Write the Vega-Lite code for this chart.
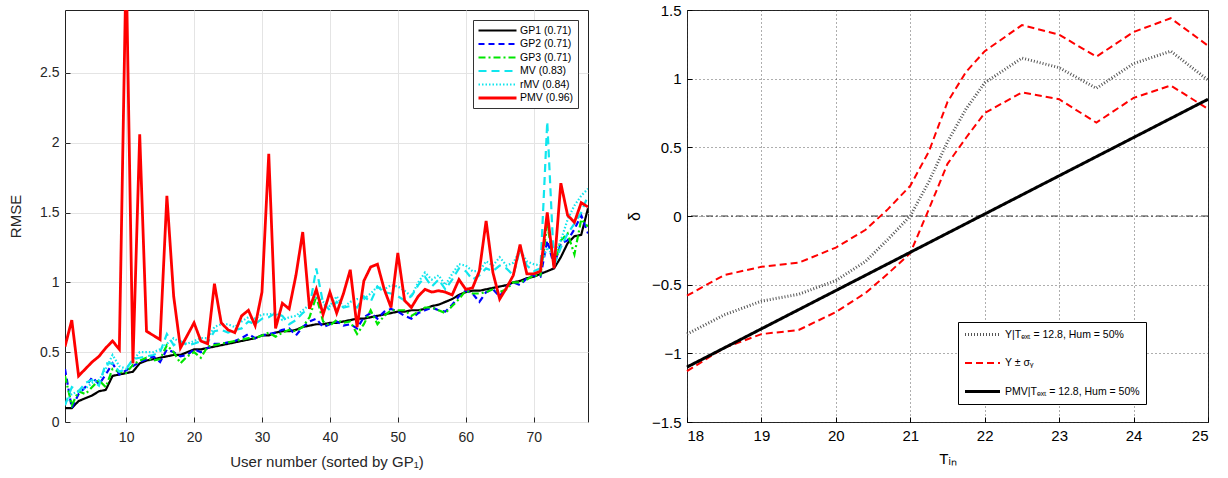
{
  "$schema": "https://vega.github.io/schema/vega-lite/v6.json",
  "padding": {"left": 8, "top": 2, "right": 5, "bottom": 5},
  "background": "white",
  "bounds": "flush",
  "spacing": 99,
  "config": {
    "font": "Liberation Sans",
    "view": {"stroke": "#222", "strokeWidth": 1},
    "axis": {"titleFontWeight": "normal", "labelFont": "Liberation Sans", "titleFont": "Liberation Sans"},
    "legend": {"labelFont": "Liberation Sans"}
  },
  "resolve": {"scale": {"color": "independent", "strokeDash": "independent", "strokeWidth": "independent", "x": "independent", "y": "independent"}},
  "hconcat": [
    {
      "width": 523,
      "height": 412,
      "data": {"values": [
        {"u":1,"GP1":0.10,"GP2":0.38,"GP3":0.33,"MV":0.12,"rMV":0.13,"PMV":0.54},
        {"u":2,"GP1":0.10,"GP2":0.10,"GP3":0.12,"MV":0.25,"rMV":0.20,"PMV":0.73},
        {"u":3,"GP1":0.15,"GP2":0.20,"GP3":0.22,"MV":0.22,"rMV":0.22,"PMV":0.33},
        {"u":4,"GP1":0.17,"GP2":0.25,"GP3":0.20,"MV":0.28,"rMV":0.24,"PMV":0.38},
        {"u":5,"GP1":0.19,"GP2":0.32,"GP3":0.25,"MV":0.30,"rMV":0.28,"PMV":0.43},
        {"u":6,"GP1":0.22,"GP2":0.27,"GP3":0.30,"MV":0.26,"rMV":0.30,"PMV":0.47},
        {"u":7,"GP1":0.23,"GP2":0.34,"GP3":0.25,"MV":0.42,"rMV":0.38,"PMV":0.53},
        {"u":8,"GP1":0.33,"GP2":0.42,"GP3":0.38,"MV":0.42,"rMV":0.48,"PMV":0.58},
        {"u":9,"GP1":0.34,"GP2":0.34,"GP3":0.36,"MV":0.36,"rMV":0.40,"PMV":0.52},
        {"u":10,"GP1":0.35,"GP2":0.37,"GP3":0.35,"MV":0.38,"rMV":0.38,"PMV":3.3},
        {"u":11,"GP1":0.36,"GP2":0.40,"GP3":0.41,"MV":0.45,"rMV":0.44,"PMV":0.42},
        {"u":12,"GP1":0.42,"GP2":0.43,"GP3":0.44,"MV":0.46,"rMV":0.50,"PMV":2.06},
        {"u":13,"GP1":0.44,"GP2":0.45,"GP3":0.46,"MV":0.47,"rMV":0.50,"PMV":0.65},
        {"u":14,"GP1":0.45,"GP2":0.47,"GP3":0.44,"MV":0.48,"rMV":0.50,"PMV":0.62},
        {"u":15,"GP1":0.46,"GP2":0.43,"GP3":0.45,"MV":0.50,"rMV":0.52,"PMV":0.59},
        {"u":16,"GP1":0.47,"GP2":0.52,"GP3":0.55,"MV":0.63,"rMV":0.56,"PMV":1.62},
        {"u":17,"GP1":0.48,"GP2":0.50,"GP3":0.50,"MV":0.55,"rMV":0.60,"PMV":0.90},
        {"u":18,"GP1":0.48,"GP2":0.47,"GP3":0.42,"MV":0.58,"rMV":0.57,"PMV":0.53},
        {"u":19,"GP1":0.50,"GP2":0.48,"GP3":0.47,"MV":0.55,"rMV":0.56,"PMV":0.62},
        {"u":20,"GP1":0.52,"GP2":0.52,"GP3":0.50,"MV":0.56,"rMV":0.58,"PMV":0.71},
        {"u":21,"GP1":0.52,"GP2":0.50,"GP3":0.46,"MV":0.58,"rMV":0.60,"PMV":0.58},
        {"u":22,"GP1":0.53,"GP2":0.53,"GP3":0.54,"MV":0.57,"rMV":0.60,"PMV":0.56},
        {"u":23,"GP1":0.54,"GP2":0.56,"GP3":0.55,"MV":0.65,"rMV":0.68,"PMV":0.99},
        {"u":24,"GP1":0.55,"GP2":0.56,"GP3":0.56,"MV":0.66,"rMV":0.70,"PMV":0.71},
        {"u":25,"GP1":0.56,"GP2":0.57,"GP3":0.57,"MV":0.64,"rMV":0.70,"PMV":0.66},
        {"u":26,"GP1":0.57,"GP2":0.58,"GP3":0.58,"MV":0.66,"rMV":0.68,"PMV":0.64},
        {"u":27,"GP1":0.58,"GP2":0.60,"GP3":0.59,"MV":0.67,"rMV":0.72,"PMV":0.76},
        {"u":28,"GP1":0.59,"GP2":0.63,"GP3":0.60,"MV":0.72,"rMV":0.75,"PMV":0.80},
        {"u":29,"GP1":0.60,"GP2":0.60,"GP3":0.60,"MV":0.70,"rMV":0.74,"PMV":0.69},
        {"u":30,"GP1":0.62,"GP2":0.62,"GP3":0.62,"MV":0.74,"rMV":0.77,"PMV":0.93},
        {"u":31,"GP1":0.62,"GP2":0.63,"GP3":0.64,"MV":0.75,"rMV":0.77,"PMV":1.92},
        {"u":32,"GP1":0.64,"GP2":0.64,"GP3":0.61,"MV":0.78,"rMV":0.78,"PMV":0.67},
        {"u":33,"GP1":0.65,"GP2":0.66,"GP3":0.64,"MV":0.76,"rMV":0.73,"PMV":0.85},
        {"u":34,"GP1":0.65,"GP2":0.67,"GP3":0.66,"MV":0.70,"rMV":0.75,"PMV":0.81},
        {"u":35,"GP1":0.66,"GP2":0.62,"GP3":0.65,"MV":0.73,"rMV":0.76,"PMV":1.05},
        {"u":36,"GP1":0.68,"GP2":0.68,"GP3":0.68,"MV":0.78,"rMV":0.80,"PMV":1.36},
        {"u":37,"GP1":0.69,"GP2":0.72,"GP3":0.75,"MV":0.82,"rMV":0.84,"PMV":0.81},
        {"u":38,"GP1":0.70,"GP2":0.74,"GP3":0.90,"MV":1.10,"rMV":0.90,"PMV":0.95},
        {"u":39,"GP1":0.70,"GP2":0.68,"GP3":0.72,"MV":0.85,"rMV":0.86,"PMV":0.77},
        {"u":40,"GP1":0.71,"GP2":0.70,"GP3":0.69,"MV":0.80,"rMV":0.83,"PMV":0.93},
        {"u":41,"GP1":0.71,"GP2":0.72,"GP3":0.73,"MV":0.86,"rMV":0.90,"PMV":0.78},
        {"u":42,"GP1":0.72,"GP2":0.69,"GP3":0.71,"MV":0.82,"rMV":0.82,"PMV":0.92},
        {"u":43,"GP1":0.73,"GP2":0.70,"GP3":0.72,"MV":0.83,"rMV":0.86,"PMV":1.09},
        {"u":44,"GP1":0.74,"GP2":0.67,"GP3":0.63,"MV":0.82,"rMV":0.88,"PMV":0.68},
        {"u":45,"GP1":0.74,"GP2":0.75,"GP3":0.70,"MV":0.90,"rMV":0.88,"PMV":1.01},
        {"u":46,"GP1":0.75,"GP2":0.78,"GP3":0.80,"MV":0.86,"rMV":0.92,"PMV":1.11},
        {"u":47,"GP1":0.76,"GP2":0.74,"GP3":0.70,"MV":0.97,"rMV":0.97,"PMV":1.13},
        {"u":48,"GP1":0.77,"GP2":0.79,"GP3":0.76,"MV":0.93,"rMV":0.95,"PMV":0.95},
        {"u":49,"GP1":0.78,"GP2":0.81,"GP3":0.80,"MV":0.92,"rMV":0.98,"PMV":0.82},
        {"u":50,"GP1":0.79,"GP2":0.79,"GP3":0.80,"MV":0.90,"rMV":0.97,"PMV":1.21},
        {"u":51,"GP1":0.79,"GP2":0.76,"GP3":0.80,"MV":0.87,"rMV":0.94,"PMV":0.87},
        {"u":52,"GP1":0.80,"GP2":0.74,"GP3":0.76,"MV":0.90,"rMV":0.90,"PMV":0.82},
        {"u":53,"GP1":0.80,"GP2":0.78,"GP3":0.79,"MV":0.98,"rMV":1.00,"PMV":0.90},
        {"u":54,"GP1":0.81,"GP2":0.80,"GP3":0.82,"MV":1.04,"rMV":1.07,"PMV":0.95},
        {"u":55,"GP1":0.83,"GP2":0.82,"GP3":0.82,"MV":0.97,"rMV":1.02,"PMV":0.93},
        {"u":56,"GP1":0.84,"GP2":0.80,"GP3":0.80,"MV":1.02,"rMV":1.05,"PMV":0.94},
        {"u":57,"GP1":0.86,"GP2":0.79,"GP3":0.78,"MV":0.95,"rMV":0.98,"PMV":0.93},
        {"u":58,"GP1":0.88,"GP2":0.84,"GP3":0.83,"MV":1.02,"rMV":1.06,"PMV":0.91},
        {"u":59,"GP1":0.91,"GP2":0.90,"GP3":0.88,"MV":1.10,"rMV":1.13,"PMV":1.02},
        {"u":60,"GP1":0.93,"GP2":0.94,"GP3":0.94,"MV":1.08,"rMV":1.12,"PMV":0.95},
        {"u":61,"GP1":0.94,"GP2":0.92,"GP3":0.92,"MV":1.02,"rMV":1.08,"PMV":0.96},
        {"u":62,"GP1":0.94,"GP2":0.86,"GP3":0.92,"MV":1.05,"rMV":1.08,"PMV":1.08},
        {"u":63,"GP1":0.95,"GP2":0.93,"GP3":0.93,"MV":1.10,"rMV":1.15,"PMV":1.44},
        {"u":64,"GP1":0.96,"GP2":0.95,"GP3":0.95,"MV":1.08,"rMV":1.12,"PMV":1.07},
        {"u":65,"GP1":0.97,"GP2":0.90,"GP3":0.93,"MV":1.12,"rMV":1.18,"PMV":0.88},
        {"u":66,"GP1":0.98,"GP2":0.97,"GP3":0.95,"MV":1.10,"rMV":1.12,"PMV":0.96},
        {"u":67,"GP1":1.00,"GP2":1.00,"GP3":1.00,"MV":1.05,"rMV":1.14,"PMV":1.05},
        {"u":68,"GP1":1.01,"GP2":0.98,"GP3":1.00,"MV":1.24,"rMV":1.23,"PMV":1.27},
        {"u":69,"GP1":1.03,"GP2":1.03,"GP3":1.02,"MV":1.12,"rMV":1.15,"PMV":1.06},
        {"u":70,"GP1":1.04,"GP2":1.05,"GP3":1.05,"MV":1.08,"rMV":1.13,"PMV":1.06},
        {"u":71,"GP1":1.06,"GP2":1.04,"GP3":1.05,"MV":1.10,"rMV":1.12,"PMV":1.08},
        {"u":72,"GP1":1.08,"GP2":1.30,"GP3":1.42,"MV":2.15,"rMV":1.25,"PMV":1.50},
        {"u":73,"GP1":1.10,"GP2":1.12,"GP3":1.12,"MV":1.12,"rMV":1.18,"PMV":1.10},
        {"u":74,"GP1":1.18,"GP2":1.28,"GP3":1.30,"MV":1.25,"rMV":1.30,"PMV":1.71},
        {"u":75,"GP1":1.28,"GP2":1.30,"GP3":1.35,"MV":1.35,"rMV":1.45,"PMV":1.48},
        {"u":76,"GP1":1.33,"GP2":1.38,"GP3":1.20,"MV":1.42,"rMV":1.55,"PMV":1.43},
        {"u":77,"GP1":1.34,"GP2":1.48,"GP3":1.45,"MV":1.50,"rMV":1.62,"PMV":1.57},
        {"u":78,"GP1":1.53,"GP2":1.35,"GP3":1.40,"MV":1.62,"rMV":1.67,"PMV":1.54}
      ]},
      "transform": [{"fold": ["GP1", "GP2", "GP3", "MV", "rMV", "PMV"], "as": ["series", "rmse"]}],
      "mark": {"type": "line", "clip": true},
      "encoding": {
        "x": {
          "field": "u", "type": "quantitative",
          "scale": {"domain": [1, 78], "nice": false, "zero": false},
          "axis": {"values": [10, 20, 30, 40, 50, 60, 70], "title": "User number (sorted by GP₁)", "titleFontSize": 15, "titleColor": "#262626", "titlePadding": 10, "labelFontSize": 14, "labelColor": "#262626", "labelPadding": 13, "tickSize": -5, "tickColor": "#262626", "domain": false, "grid": true, "gridColor": "#e4e4e4", "gridWidth": 1}
        },
        "y": {
          "field": "rmse", "type": "quantitative",
          "scale": {"domain": [0, 2.95], "nice": false, "zero": false},
          "axis": {"values": [0, 0.5, 1, 1.5, 2, 2.5], "format": ".2~f", "title": "RMSE", "titleFontSize": 15, "titleColor": "#262626", "titlePadding": 16, "labelFontSize": 14, "labelColor": "#262626", "labelPadding": 11, "tickSize": -5, "tickColor": "#262626", "domain": false, "grid": true, "gridColor": "#e4e4e4", "gridWidth": 1}
        },
        "color": {
          "field": "series", "type": "nominal",
          "scale": {"domain": ["GP1", "GP2", "GP3", "MV", "rMV", "PMV"], "range": ["#000000", "#0000ff", "#00e600", "#10e6ee", "#10e6ee", "#ff0000"]},
          "legend": {
            "orient": "top-right", "offset": 10, "title": null,
            "fillColor": "white", "strokeColor": "#333", "padding": 4,
            "labelFontSize": 10.5, "labelColor": "#000",
            "symbolType": "M-3.8,0H3.8", "symbolSize": 100, "symbolOffset": 14, "labelOffset": 16, "rowPadding": 1.5,
            "labelExpr": "datum.label == 'GP1' ? 'GP1 (0.71)' : datum.label == 'GP2' ? 'GP2 (0.71)' : datum.label == 'GP3' ? 'GP3 (0.71)' : datum.label == 'MV' ? 'MV (0.83)' : datum.label == 'rMV' ? 'rMV (0.84)' : 'PMV (0.96)'"
          }
        },
        "strokeDash": {
          "field": "series", "type": "nominal",
          "scale": {"domain": ["GP1", "GP2", "GP3", "MV", "rMV", "PMV"], "range": [[1, 0], [6, 4], [7, 3, 2, 3], [8, 5], [1.5, 2], [1, 0]]}
        },
        "strokeWidth": {
          "field": "series", "type": "nominal",
          "scale": {"type": "ordinal", "domain": ["GP1", "GP2", "GP3", "MV", "rMV", "PMV"], "range": [2.2, 2.2, 2.2, 2.2, 2.2, 2.8]}
        }
      }
    },
    {
      "width": 521,
      "height": 412,
      "layer": [
        {
          "data": {"values": [{"z": 0}]},
          "mark": {"type": "rule", "color": "#000", "strokeWidth": 0.8, "strokeDash": [7, 3, 2, 3]},
          "encoding": {"y": {"field": "z", "type": "quantitative"}}
        },
        {
          "data": {"values": [
            {"t":18,"v":-0.86,"s":"Y","k":"Y"},{"t":18.5,"v":-0.72,"s":"Y","k":"Y"},{"t":19,"v":-0.62,"s":"Y","k":"Y"},{"t":19.5,"v":-0.57,"s":"Y","k":"Y"},{"t":20,"v":-0.47,"s":"Y","k":"Y"},{"t":20.4,"v":-0.33,"s":"Y","k":"Y"},{"t":20.7,"v":-0.17,"s":"Y","k":"Y"},{"t":21,"v":0.0,"s":"Y","k":"Y"},{"t":21.25,"v":0.25,"s":"Y","k":"Y"},{"t":21.5,"v":0.54,"s":"Y","k":"Y"},{"t":21.75,"v":0.78,"s":"Y","k":"Y"},{"t":22,"v":0.97,"s":"Y","k":"Y"},{"t":22.5,"v":1.15,"s":"Y","k":"Y"},{"t":23,"v":1.08,"s":"Y","k":"Y"},{"t":23.5,"v":0.93,"s":"Y","k":"Y"},{"t":24,"v":1.11,"s":"Y","k":"Y"},{"t":24.5,"v":1.2,"s":"Y","k":"Y"},{"t":25,"v":0.99,"s":"Y","k":"Y"},
            {"t":18,"v":-0.58,"s":"S","k":"U"},{"t":18.5,"v":-0.43,"s":"S","k":"U"},{"t":19,"v":-0.37,"s":"S","k":"U"},{"t":19.5,"v":-0.34,"s":"S","k":"U"},{"t":20,"v":-0.23,"s":"S","k":"U"},{"t":20.4,"v":-0.1,"s":"S","k":"U"},{"t":20.7,"v":0.05,"s":"S","k":"U"},{"t":21,"v":0.22,"s":"S","k":"U"},{"t":21.25,"v":0.47,"s":"S","k":"U"},{"t":21.5,"v":0.83,"s":"S","k":"U"},{"t":21.75,"v":1.05,"s":"S","k":"U"},{"t":22,"v":1.2,"s":"S","k":"U"},{"t":22.5,"v":1.39,"s":"S","k":"U"},{"t":23,"v":1.32,"s":"S","k":"U"},{"t":23.5,"v":1.16,"s":"S","k":"U"},{"t":24,"v":1.34,"s":"S","k":"U"},{"t":24.5,"v":1.44,"s":"S","k":"U"},{"t":25,"v":1.24,"s":"S","k":"U"},
            {"t":18,"v":-1.13,"s":"S","k":"L"},{"t":18.5,"v":-0.96,"s":"S","k":"L"},{"t":19,"v":-0.86,"s":"S","k":"L"},{"t":19.5,"v":-0.83,"s":"S","k":"L"},{"t":20,"v":-0.7,"s":"S","k":"L"},{"t":20.4,"v":-0.56,"s":"S","k":"L"},{"t":20.7,"v":-0.42,"s":"S","k":"L"},{"t":21,"v":-0.27,"s":"S","k":"L"},{"t":21.25,"v":0.05,"s":"S","k":"L"},{"t":21.5,"v":0.38,"s":"S","k":"L"},{"t":21.75,"v":0.57,"s":"S","k":"L"},{"t":22,"v":0.75,"s":"S","k":"L"},{"t":22.5,"v":0.9,"s":"S","k":"L"},{"t":23,"v":0.85,"s":"S","k":"L"},{"t":23.5,"v":0.68,"s":"S","k":"L"},{"t":24,"v":0.86,"s":"S","k":"L"},{"t":24.5,"v":0.95,"s":"S","k":"L"},{"t":25,"v":0.78,"s":"S","k":"L"},
            {"t":18,"v":-1.1,"s":"P","k":"P"},{"t":25,"v":0.85,"s":"P","k":"P"}
          ]},
          "mark": {"type": "line"},
          "encoding": {
            "x": {
              "field": "t", "type": "quantitative",
              "scale": {"domain": [18, 25], "nice": false, "zero": false},
              "axis": {"values": [18, 19, 20, 21, 22, 23, 24, 25], "title": "Tᵢₙ", "titleFontSize": 15, "titleColor": "#000", "titlePadding": 8, "labelFontSize": 15, "labelColor": "#000", "labelPadding": 11, "tickSize": -5, "tickColor": "#000", "domain": false, "grid": true, "gridColor": "#333", "gridDash": [1, 3], "gridWidth": 0.8}
            },
            "y": {
              "field": "v", "type": "quantitative",
              "scale": {"domain": [-1.5, 1.5], "nice": false, "zero": false},
              "axis": {"values": [-1.5, -1, -0.5, 0, 0.5, 1, 1.5], "format": ".2~f", "title": "δ", "titleFontSize": 16, "titleColor": "#000", "titlePadding": 9, "labelFontSize": 15, "labelColor": "#000", "labelPadding": 11, "tickSize": -5, "tickColor": "#000", "domain": false, "grid": true, "gridColor": "#333", "gridDash": [1, 3], "gridWidth": 0.8}
            },
            "color": {
              "field": "s", "type": "nominal",
              "scale": {"domain": ["Y", "S", "P"], "range": ["#555555", "#ff0000", "#000000"]},
              "legend": {
                "orient": "none", "legendX": 271, "legendY": 312, "title": null,
                "fillColor": "white", "strokeColor": "#000", "padding": 6,
                "labelFontSize": 10.5, "labelColor": "#000",
                "symbolType": "M-3.5,0H3.5", "symbolSize": 100, "symbolOffset": 12, "labelOffset": 16, "rowPadding": 16,
                "labelExpr": "datum.label == 'Y' ? 'Y|Tₑₓₜ = 12.8, Hum = 50%' : datum.label == 'S' ? 'Y ± σᵧ' : 'PMV|Tₑₓₜ = 12.8, Hum = 50%'"
              }
            },
            "strokeDash": {
              "field": "s", "type": "nominal",
              "scale": {"domain": ["Y", "S", "P"], "range": [[1, 2], [7, 4], [1, 0]]}
            },
            "strokeWidth": {
              "field": "s", "type": "nominal",
              "scale": {"type": "ordinal", "domain": ["Y", "S", "P"], "range": [3, 2, 3]}
            },
            "detail": {"field": "k", "type": "nominal"}
          }
        }
      ]
    }
  ]
}
